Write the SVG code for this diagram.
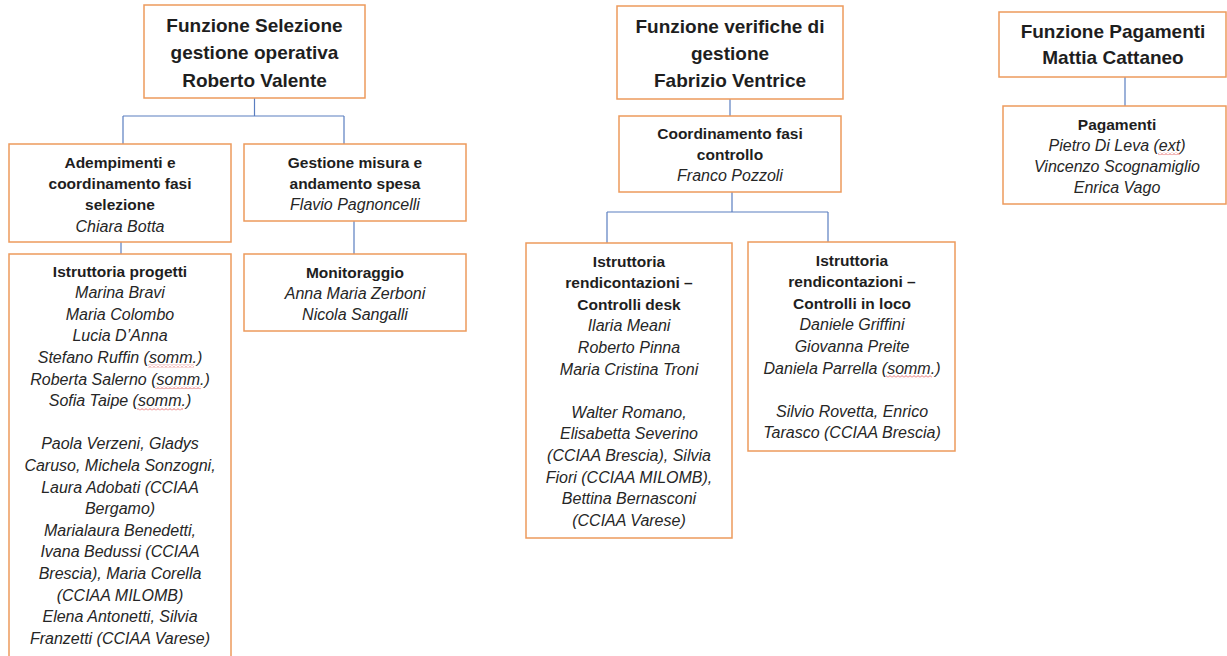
<svg xmlns="http://www.w3.org/2000/svg" width="1227" height="656" viewBox="0 0 1227 656">
<style>
.box{fill:#fff;stroke:#ED9A5C;stroke-width:1.5}
.con{fill:none;stroke:#5A7EC0;stroke-width:1.2}
text{font-family:"Liberation Sans",Arial,sans-serif;text-anchor:middle;fill:#1e1e1e}
.t{font-size:19px;font-weight:bold}
.h{font-size:15.5px;font-weight:bold}
.n{font-size:16px;font-style:italic;fill:#262626}
.sp{fill:url(#wave)}
</style>
<defs>
<pattern id="wave" x="0" y="0" width="4" height="3" patternUnits="userSpaceOnUse">
<path d="M0 2.5L2 0.5L4 2.5" fill="none" stroke="#E04848" stroke-width="0.8"/>
</pattern>
</defs>
<rect width="1227" height="656" fill="#fff"/>
<g id="connectors">
<path class="con" d="M254.5 98V116M123 116H344M123 116V144M344 116V144"/>
<path class="con" d="M121 242V254"/>
<path class="con" d="M354 221V254"/>
<path class="con" d="M730 99V116"/>
<path class="con" d="M732 192V212M607 212H828M607 212V243M828 212V242"/>
<path class="con" d="M1125 77V106"/>
</g>
<g id="n-selezione">
<rect class="box" x="144" y="5" width="221" height="93"/>
<text class="t" x="254.5" y="31.5">Funzione Selezione</text>
<text class="t" x="254.5" y="58.5">gestione operativa</text>
<text class="t" x="254.5" y="86.5">Roberto Valente</text>
</g>
<g id="n-verifiche">
<rect class="box" x="617" y="6" width="226" height="93"/>
<text class="t" x="730" y="32.5">Funzione verifiche di</text>
<text class="t" x="730" y="59.5">gestione</text>
<text class="t" x="730" y="86.5">Fabrizio Ventrice</text>
</g>
<g id="n-pagamenti-f">
<rect class="box" x="999" y="12" width="227" height="65"/>
<text class="t" x="1113" y="37.5">Funzione Pagamenti</text>
<text class="t" x="1113" y="63.5">Mattia Cattaneo</text>
</g>
<g id="n-adempimenti">
<rect class="box" x="9" y="144" width="222" height="98"/>
<text class="h" x="120" y="167.5">Adempimenti e</text>
<text class="h" x="120" y="188.5">coordinamento fasi</text>
<text class="h" x="120" y="209.5">selezione</text>
<text class="n" x="120" y="231.5">Chiara Botta</text>
</g>
<g id="n-gestione">
<rect class="box" x="244" y="144" width="222" height="77"/>
<text class="h" x="355" y="167.5">Gestione misura e</text>
<text class="h" x="355" y="188.5">andamento spesa</text>
<text class="n" x="355" y="209.5">Flavio Pagnoncelli</text>
</g>
<g id="n-istruttoria">
<rect class="box" x="9" y="254" width="222" height="412"/>
<text class="h" x="120" y="276.5">Istruttoria progetti</text>
<text class="n" x="120" y="298.1">Marina Bravi</text>
<text class="n" x="120" y="319.7">Maria Colombo</text>
<text class="n" x="120" y="341.3">Lucia D’Anna</text>
<text class="n" x="120" y="362.9">Stefano Ruffin (somm.)</text>
<text class="n" x="120" y="384.5">Roberta Salerno (somm.)</text>
<text class="n" x="120" y="406.1">Sofia Taipe (somm.)</text>
<text class="n" x="120" y="449.3">Paola Verzeni, Gladys</text>
<text class="n" x="120" y="470.9">Caruso, Michela Sonzogni,</text>
<text class="n" x="120" y="492.5">Laura Adobati (CCIAA</text>
<text class="n" x="120" y="514.1">Bergamo)</text>
<text class="n" x="120" y="535.7">Marialaura Benedetti,</text>
<text class="n" x="120" y="557.3">Ivana Bedussi (CCIAA</text>
<text class="n" x="120" y="578.9">Brescia), Maria Corella</text>
<text class="n" x="120" y="600.5">(CCIAA MILOMB)</text>
<text class="n" x="120" y="622.1">Elena Antonetti, Silvia</text>
<text class="n" x="120" y="643.7">Franzetti (CCIAA Varese)</text>
<rect class="sp" x="148" y="364.5" width="46" height="3"/>
<rect class="sp" x="155" y="386.1" width="46" height="3"/>
<rect class="sp" x="137" y="407.7" width="46" height="3"/>
</g>
<g id="n-monitoraggio">
<rect class="box" x="244" y="254" width="222" height="77"/>
<text class="h" x="355" y="277.5">Monitoraggio</text>
<text class="n" x="355" y="298.5">Anna Maria Zerboni</text>
<text class="n" x="355" y="319.5">Nicola Sangalli</text>
</g>
<g id="n-coordinamento">
<rect class="box" x="619" y="116" width="222" height="76"/>
<text class="h" x="730" y="138.5">Coordinamento fasi</text>
<text class="h" x="730" y="159.5">controllo</text>
<text class="n" x="730" y="180.5">Franco Pozzoli</text>
</g>
<g id="n-desk">
<rect class="box" x="526" y="243" width="206" height="295"/>
<text class="h" x="629" y="266.5">Istruttoria</text>
<text class="h" x="629" y="288.1">rendicontazioni –</text>
<text class="h" x="629" y="309.7">Controlli desk</text>
<text class="n" x="629" y="331.3">Ilaria Meani</text>
<text class="n" x="629" y="352.9">Roberto Pinna</text>
<text class="n" x="629" y="374.5">Maria Cristina Troni</text>
<text class="n" x="629" y="417.7">Walter Romano,</text>
<text class="n" x="629" y="439.3">Elisabetta Severino</text>
<text class="n" x="629" y="460.9">(CCIAA Brescia), Silvia</text>
<text class="n" x="629" y="482.5">Fiori (CCIAA MILOMB),</text>
<text class="n" x="629" y="504.1">Bettina Bernasconi</text>
<text class="n" x="629" y="525.7">(CCIAA Varese)</text>
</g>
<g id="n-loco">
<rect class="box" x="748" y="242" width="207" height="209"/>
<text class="h" x="852" y="265.5">Istruttoria</text>
<text class="h" x="852" y="287.1">rendicontazioni –</text>
<text class="h" x="852" y="308.7">Controlli in loco</text>
<text class="n" x="852" y="330.3">Daniele Griffini</text>
<text class="n" x="852" y="351.9">Giovanna Preite</text>
<text class="n" x="852" y="373.5">Daniela Parrella (somm.)</text>
<text class="n" x="852" y="416.7">Silvio Rovetta, Enrico</text>
<text class="n" x="852" y="438.3">Tarasco (CCIAA Brescia)</text>
<rect class="sp" x="886" y="375.1" width="46" height="3"/>
</g>
<g id="n-pagamenti">
<rect class="box" x="1003" y="106" width="223" height="98"/>
<text class="h" x="1117" y="129.5">Pagamenti</text>
<text class="n" x="1117" y="150.5">Pietro Di Leva (ext)</text>
<text class="n" x="1117" y="171.5">Vincenzo Scognamiglio</text>
<text class="n" x="1117" y="192.5">Enrica Vago</text>
<rect class="sp" x="1158" y="152.1" width="22" height="3"/>
</g>
</svg>
